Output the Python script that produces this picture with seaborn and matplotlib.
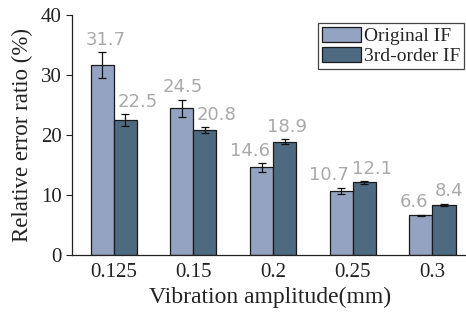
import pandas as pd
import matplotlib.pyplot as plt
import seaborn as sns

# data
amplitudes = ['0.125', '0.15', '0.2', '0.25', '0.3']
original_if = [31.7, 24.5, 14.6, 10.7, 6.6]
original_err = [2.1, 1.4, 0.7, 0.5, 0.1]
third_if = [22.5, 20.8, 18.9, 12.1, 8.4]
third_err = [1.0, 0.5, 0.4, 0.2, 0.15]
methods = ['Original IF', '3rd-order IF']

# horizontal nudge of each value label (category units), as placed in the figure
label_shift = [0.044, 0.012, -0.15, -0.156, -0.081,
               0.156, 0.144, 0.025, 0.094, 0.062]

sns.set_style('ticks')
plt.rcParams['font.family'] = ['Liberation Serif', 'DejaVu Serif']

df = pd.DataFrame({
    'amp': amplitudes * 2,
    'val': original_if + third_if,
    'method': [methods[0]] * 5 + [methods[1]] * 5,
})
errs = original_err + third_err

fig = plt.figure(figsize=(4.66, 3.16), dpi=100)
ax = fig.add_axes([0.155, 0.193, 0.85, 0.759])

sns.barplot(data=df, x='amp', y='val', hue='method', order=amplitudes,
            hue_order=methods, palette=['#94a3c1', '#4e6a80'], width=0.58,
            errorbar=None, edgecolor='#1a1a1a', linewidth=0.9, saturation=1,
            ax=ax)

bars = [p for p in ax.patches if p.get_height() > 0]
for p, v, e, s in zip(bars, df['val'], errs, label_shift):
    cx = p.get_x() + p.get_width() / 2
    ax.errorbar(cx, v, yerr=e, color='#111111', capsize=3, elinewidth=0.9,
                capthick=0.9)
    ax.text(cx + s, v + e + 0.6, f'{v:.1f}', ha='center', va='bottom',
            fontsize=13, color='#a9a9a9', family='DejaVu Sans')

ax.set_ylim(0, 40)
ax.set_xlim(-0.52, 4.45)
ax.set_yticks([0, 10, 20, 30, 40])
ax.set_xlabel('Vibration amplitude(mm)', fontsize=17, color='#222222',
              labelpad=3)
ax.set_ylabel('Relative error ratio (%)', fontsize=16.5, color='#222222',
              labelpad=6)
ax.tick_params(axis='both', labelsize=15, colors='#222222', length=4,
               width=0.8)
ax.tick_params(axis='x', length=0, pad=6)
sns.despine(ax=ax)
for s in ['left', 'bottom']:
    ax.spines[s].set_color('#222222')
    ax.spines[s].set_linewidth(0.9)

leg = ax.legend(loc='upper right', bbox_to_anchor=(0.99, 0.967), fontsize=14,
                fancybox=False, edgecolor='#444444', framealpha=1,
                handlelength=2.0, handleheight=0.8, borderpad=0.2,
                labelspacing=0.1, handletextpad=0.15, borderaxespad=0)
leg.get_frame().set_linewidth(0.9)

fig.savefig('out.png', dpi=100)
